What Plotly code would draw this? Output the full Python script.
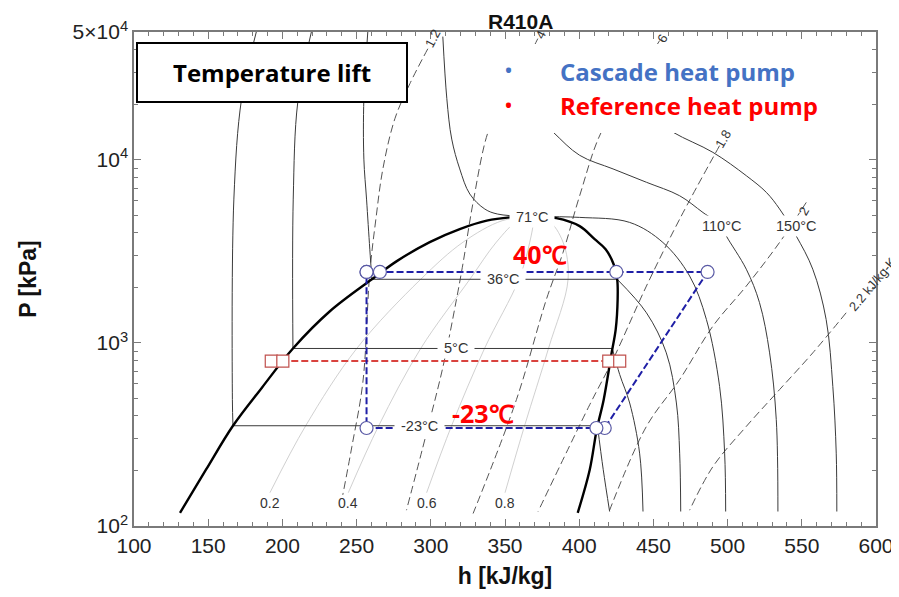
import numpy as np
import plotly.graph_objects as go

# ---- data (h in kJ/kg, P in kPa) ----

# saturation dome: liquid line -> critical point -> vapour line
dome_h = [131.0, 148.5, 166.7, 186.2, 207.1, 232.0, 260.3, 277.1, 299.3, 319.5, 337.7, 353.2,
          368.0, 384.6, 400.3, 410.4, 417.8, 423.2, 425.6, 425.9, 424.6, 421.9, 416.5, 411.8, 407.1, 399.0]
dome_p = [118, 203, 353, 570, 933, 1490, 2228, 2800, 3556, 4188, 4656, 4853,
          4901, 4808, 4348, 3690, 3253, 2692, 2228, 1731, 1186, 887, 490, 336, 203, 118]

# isotherms, split in liquid part and vapour part (two-phase part is the straight link)
tm23_liq_h = [182.6, 172.5, 167.3, 166.3, 166.7]
tm23_liq_p = [50700, 21600, 6110, 490, 353]
tm23_vap_h = [412.3, 416.2, 420.5]
tm23_vap_p = [353, 203, 120]

t5_liq_h = [219.7, 210.4, 207.3, 207.1]
t5_liq_p = [50700, 20800, 6110, 933]
t5_vap_h = [422.3, 427.3, 434.0, 440.7, 443.0]
t5_vap_p = [933, 672, 470, 250, 120]

t36_liq_h = [257.6, 254.9, 254.9, 256.7, 258.9, 260.3]
t36_liq_p = [50700, 21600, 10100, 6110, 3252, 2228]
t36_vap_h = [425.6, 445.3, 458.7, 465.5, 467.7, 468.4]
t36_vap_p = [2228, 1462, 883, 470, 250, 120]

t71_liq_h = [308.1, 310.8, 314.1, 319.5, 326.3, 336.4, 345.1, 368.0]
t71_liq_p = [47200, 21600, 13000, 8930, 6510, 5390, 5060, 4901]
t71_vap_h = [368.0, 400.3, 434.0, 456.4, 474.4, 485.7, 494.6, 498.0, 498.7]
t71_vap_p = [4901, 4853, 4557, 3540, 2323, 1345, 579, 250, 120]

t110_h = [359.9, 382.4, 400.3, 422.8, 445.3, 467.7, 483.4, 495.8, 499.1, 512.6, 521.5, 528.3, 532.8, 533.9]
t110_p = [21600, 14200, 10600, 8930, 7550, 6370, 5160, 4365, 3846, 2529, 1660, 883, 381, 120]

t150_h = [440.7, 463.0, 490.1, 512.6, 526.1, 535.0, 546.2, 557.4, 566.4, 570.9, 573.2, 573.6]
t150_p = [19000, 14200, 11000, 8200, 6650, 5400, 3846, 2529, 1345, 579, 250, 120]

iso_labels = ["-23°C", "5°C", "36°C", "71°C", "110°C", "150°C"]
iso_label_h = [292.6, 316.8, 348.5, 368.0, 496.0, 546.5]
iso_label_p = [353, 933, 2228, 4901, 4350, 4350]

# quality lines, bottom -> critical point
q_p = [152, 353, 933, 2228, 3556, 4656, 4901]
q02_h = [191.6, 215.7, 250.1, 293.2, 321.8, 348.1, 368.0]
q04_h = [244.4, 264.9, 293.2, 326.3, 344.2, 358.5, 368.0]
q06_h = [297.2, 314.0, 336.2, 359.4, 366.7, 369.0, 368.0]
q08_h = [350.0, 363.2, 379.3, 392.5, 389.1, 379.4, 368.0]
q_labels = ["0.2", "0.4", "0.6", "0.8"]
q_label_p = 134

# isentropes (kJ/kg-K)
s12_h = [298.0, 285.9, 275.8, 267.7, 263.0, 258.9, 254.2, 246.8, 240.7]
s12_p = [40500, 26100, 16800, 8930, 4750, 2432, 608, 271, 148]
s14_h = [372.1, 356.6, 346.5, 338.6, 328.5, 321.8, 317.3, 308.3, 297.1, 283.6]
s14_p = [46000, 26100, 19000, 14200, 5860, 2748, 1731, 747, 322, 122]
s16_h = [454.2, 434.0, 414.9, 400.3, 389.1, 377.9, 357.7, 328.5]
s16_p = [44900, 24500, 14200, 6370, 3120, 1731, 490, 117]
s18_h = [494.6, 467.7, 445.3, 422.8, 407.1, 372.3]
s18_p = [11970, 4750, 2046, 813, 460, 120]
s20_h = [553.0, 535.0, 512.6, 490.1, 467.7, 445.3, 420.5]
s20_p = [5860, 3540, 2046, 1236, 631, 350, 122]
s22_h = [579.9, 557.4, 535.0, 512.6, 490.1, 474.4]
s22_p = [1462, 883, 556, 350, 211, 122]

s_labels = ["1.2", "4", "6", "1.8", "2", "2.2 kJ/kg-K"]
s_label_h = [301.3, 374.1, 456.2, 496.6, 551.2, 597.5]
s_label_p = [46000, 48400, 46000, 13000, 5260, 2090]
s_label_ang = [-62, -62, -62, -60, -60, -50]

# cycles
cascade_h = [256.7, 265.7, 425.0, 486.5, 417.2, 411.6, 256.7, 256.7]
cascade_p = [2443, 2443, 2443, 2443, 343, 343, 343, 2443]
reference_h = [192.5, 200.3, 419.9, 427.3]
reference_p = [796, 796, 796, 796]

x_ticks = [100, 150, 200, 250, 300, 350, 400, 450, 500, 550, 600]
y_ticks = [100, 1000, 10000, 50000]
y_ticktext = ["10<sup>2</sup>", "10<sup>3</sup>", "10<sup>4</sup>", "5×10<sup>4</sup>"]
y_minor = [200, 300, 400, 500, 600, 700, 800, 900, 2000, 3000, 4000, 5000, 6000, 7000, 8000, 9000,
           20000, 30000, 40000]

# plot area in page pixels (page body has an 8px margin)
L, R, T, B = 134, 876, 32, 526
W, H = 891, 581


def px(x):
    return (x - L) / (R - L)


def py(y):
    return (B - y) / (B - T)


fig = go.Figure()

ISO = dict(color="#3a3a3a", width=1)
QL = dict(color="#c4c4c4", width=0.8)
SL = dict(color="#555555", width=1, dash="8px,4px")


def curve(h, p, line, shape="spline"):
    fig.add_trace(go.Scatter(x=h, y=p, mode="lines", line=dict(shape=shape, **line),
                             hoverinfo="skip", showlegend=False))


for qh in [q02_h, q04_h, q06_h, q08_h]:
    curve(qh, q_p, QL)

for sh, sp in [(s12_h, s12_p), (s14_h, s14_p), (s16_h, s16_p),
               (s18_h, s18_p), (s20_h, s20_p), (s22_h, s22_p)]:
    curve(sh, sp, SL)

for lh, lp, vh, vp in [(tm23_liq_h, tm23_liq_p, tm23_vap_h, tm23_vap_p),
                       (t5_liq_h, t5_liq_p, t5_vap_h, t5_vap_p),
                       (t36_liq_h, t36_liq_p, t36_vap_h, t36_vap_p)]:
    curve(lh, lp, ISO)
    curve([lh[-1], vh[0]], [lp[-1], vp[0]], ISO, "linear")
    curve(vh, vp, ISO)

curve(t71_liq_h, t71_liq_p, ISO)
curve(t71_vap_h, t71_vap_p, ISO)
curve(t110_h, t110_p, ISO)
curve(t150_h, t150_p, ISO)

curve(dome_h, dome_p, dict(color="black", width=2.4))

fig.add_trace(go.Scatter(
    x=reference_h, y=reference_p, mode="lines+markers",
    line=dict(color="#d9433e", width=2, dash="7px,3px"),
    marker=dict(symbol="square", size=12, color="white", line=dict(color="#c0504d", width=1.2)),
    hoverinfo="skip", showlegend=False))

fig.add_trace(go.Scatter(
    x=cascade_h, y=cascade_p, mode="lines+markers",
    line=dict(color="#1f1fa6", width=2, dash="7px,3px"),
    marker=dict(symbol="circle", size=13, color="white", line=dict(color="#5a5aa5", width=1.2)),
    hoverinfo="skip", showlegend=False))

ann = []
nb = "\u00a0"
for t, h, p in zip(iso_labels, iso_label_h, iso_label_p):
    ann.append(dict(x=h, y=np.log10(p), text=nb + t + nb, showarrow=False, bgcolor="white",
                    borderpad=2, font=dict(size=14.5, color="#333333")))
for t, h in zip(q_labels, [q02_h[0], q04_h[0], q06_h[0], q08_h[0]]):
    ann.append(dict(x=h, y=np.log10(q_label_p), text=t, showarrow=False,
                    font=dict(size=14, color="#333333")))

# overlay boxes (legend area and title box) drawn over the chart lines
shapes = [
    dict(type="rect", xref="paper", yref="paper", x0=px(480), x1=px(842), y0=py(133), y1=py(44),
         fillcolor="white", line=dict(width=0), layer="above"),
    dict(type="rect", xref="paper", yref="paper", x0=px(137), x1=px(407), y0=py(102), y1=py(43),
         fillcolor="white", line=dict(color="black", width=2), layer="above"),
]

for t, h, p, a in zip(s_labels, s_label_h, s_label_p, s_label_ang):
    ann.append(dict(x=h, y=np.log10(p), text=t, showarrow=False, textangle=a,
                    font=dict(size=13, color="#333333")))

BIG = "Open Sans"


def note(x, y, text, size, color, family=BIG, xanchor="center"):
    ann.append(dict(xref="paper", yref="paper", x=px(x), y=py(y), text=text, showarrow=False,
                    xanchor=xanchor, yanchor="middle", font=dict(family=family, size=size, color=color)))


note(272, 73, "<b>Temperature lift</b>", 24, "black")
note(508, 70, "•", 24, "#4472c4")
note(508, 104, "•", 24, "#ff0000")
note(558, 72, "<b>Cascade heat pump</b>", 24, "#4472c4", xanchor="left")
note(558, 106, "<b>Reference heat pump</b>", 24, "#ff0000", xanchor="left")
note(540, 254, "<b>40℃</b>", 25, "#ff0000")
note(483, 413, "<b>-23℃</b>", 25, "#ff0000")
note(520, 21, "<b>R410A</b>", 21, "#111111", family="Liberation Sans")

AX = dict(showline=True, linecolor="#7a7a7a", linewidth=1.5, mirror="ticks", ticks="inside",
          tickcolor="#7a7a7a", ticklen=7, showgrid=False, zeroline=False, automargin=False,
          tickfont=dict(family="Liberation Sans", size=21, color="#222222"))

fig.update_layout(
    width=W, height=H,
    margin=dict(l=L - 8, r=W - (R - 8), t=T - 8, b=H - (B - 8)),
    paper_bgcolor="white", plot_bgcolor="white",
    font=dict(family="Liberation Sans"),
    xaxis=dict(range=[100, 600], tickvals=x_ticks,
               minor=dict(dtick=10, ticks="inside", ticklen=4, tickcolor="#7a7a7a"),
               title=dict(text="<b>h [kJ/kg]</b>", font=dict(size=23, color="#111111"), standoff=12),
               **AX),
    yaxis=dict(type="log", range=[2, np.log10(50000)], tickvals=y_ticks, ticktext=y_ticktext,
               minor=dict(tickvals=y_minor, ticks="inside", ticklen=4, tickcolor="#7a7a7a"),
               title=dict(text="<b>P [kPa]</b>", font=dict(size=23, color="#111111"), standoff=30),
               **AX),
    annotations=ann,
    shapes=shapes,
)

fig.write_html("out.html")
